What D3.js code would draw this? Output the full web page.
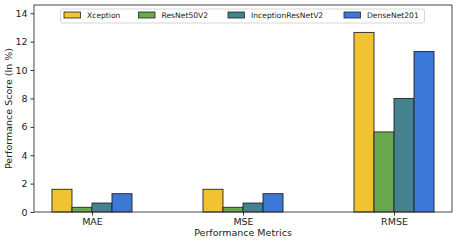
<!DOCTYPE html>
<html>
<head>
<meta charset="utf-8">
<script src="https://cdn.jsdelivr.net/npm/d3@7"></script>
<style>
body { margin: 0; background: #fff; }
text { font-family: "DejaVu Sans", sans-serif; fill: #222; }
</style>
</head>
<body>
<script>
var width = 457, height = 243;

// data
var metrics = ["MAE", "MSE", "RMSE"];
var models = ["Xception", "ResNet50V2", "InceptionResNetV2", "DenseNet201"];
var colors = ["#f1c232", "#6aa84f", "#45818e", "#3c78d8"];
var xception = [1.6, 1.6, 12.65];
var resnet = [0.33, 0.33, 5.64];
var inception = [0.63, 0.63, 8.0];
var densenet = [1.29, 1.29, 11.3];
var yTicks = [0, 2, 4, 6, 8, 10, 12, 14];

var series = [xception, resnet, inception, densenet];

var margin = {left: 34, right: 5, top: 5, bottom: 31};

var svg = d3.select("body").append("svg")
  .attr("width", width)
  .attr("height", height);

var x = d3.scaleLinear()
  .domain([-0.384, 2.384])
  .range([margin.left, width - margin.right]);

var y = d3.scaleLinear()
  .domain([0, 14.58])
  .range([height - margin.bottom, margin.top]);

var barW = 0.1325;

var groups = svg.selectAll("g.series")
  .data(series)
  .enter().append("g")
  .attr("class", "series")
  .attr("fill", function(d, i) { return colors[i]; });

groups.each(function(vals, si) {
  d3.select(this).selectAll("rect")
    .data(vals)
    .enter().append("rect")
    .attr("x", function(d, i) { return x(i + (si - 2) * barW); })
    .attr("width", x(barW) - x(0))
    .attr("y", function(d) { return y(d); })
    .attr("height", function(d) { return y(0) - y(d); })
    .attr("stroke", "#222")
    .attr("stroke-width", 0.9);
});

// axes
var yAxis = svg.append("g")
  .attr("transform", "translate(" + margin.left + ",0)")
  .call(d3.axisLeft(y).tickValues(yTicks).tickSize(3.5).tickPadding(3));
yAxis.select(".domain").remove();
yAxis.selectAll("text").style("font-size", "9.5px").attr("fill", "#222");
yAxis.selectAll("line").attr("stroke", "#333");

var xAxis = svg.append("g")
  .attr("transform", "translate(0," + (height - margin.bottom) + ")")
  .call(d3.axisBottom(x).tickValues([0, 1, 2]).tickFormat(function(d) { return metrics[d]; }).tickSize(3.5).tickPadding(3));
xAxis.select(".domain").remove();
xAxis.selectAll("text").style("font-size", "9.5px").attr("fill", "#222");
xAxis.selectAll("line").attr("stroke", "#333");

// frame
svg.append("rect")
  .attr("x", margin.left)
  .attr("y", margin.top)
  .attr("width", width - margin.left - margin.right)
  .attr("height", height - margin.top - margin.bottom)
  .attr("fill", "none")
  .attr("stroke", "#333")
  .attr("stroke-width", 0.9);

// labels
svg.append("text")
  .attr("x", (margin.left + width - margin.right) / 2)
  .attr("y", 236)
  .attr("text-anchor", "middle")
  .style("font-size", "9.5px")
  .text("Performance Metrics");

svg.append("text")
  .attr("transform", "translate(12," + ((margin.top + height - margin.bottom) / 2) + ") rotate(-90)")
  .attr("text-anchor", "middle")
  .style("font-size", "9.5px")
  .text("Performance Score (In %)");

// legend
var legend = svg.append("g");
legend.append("rect")
  .attr("x", 60.5).attr("y", 9)
  .attr("width", 364).attr("height", 14)
  .attr("rx", 2)
  .attr("fill", "#fff")
  .attr("fill-opacity", 0.8)
  .attr("stroke", "#ccc")
  .attr("stroke-width", 0.8);

var legX = [64, 138.5, 228, 344];
var items = legend.selectAll("g.item")
  .data(models)
  .enter().append("g")
  .attr("class", "item")
  .attr("transform", function(d, i) { return "translate(" + legX[i] + ",12)"; });
items.append("rect")
  .attr("width", 16.5).attr("height", 6)
  .attr("fill", function(d, i) { return colors[i]; })
  .attr("stroke", "#222")
  .attr("stroke-width", 0.8);
items.append("text")
  .attr("x", 23)
  .attr("y", 6)
  .style("font-size", "7.6px")
  .text(function(d) { return d; });
</script>
</body>
</html>
